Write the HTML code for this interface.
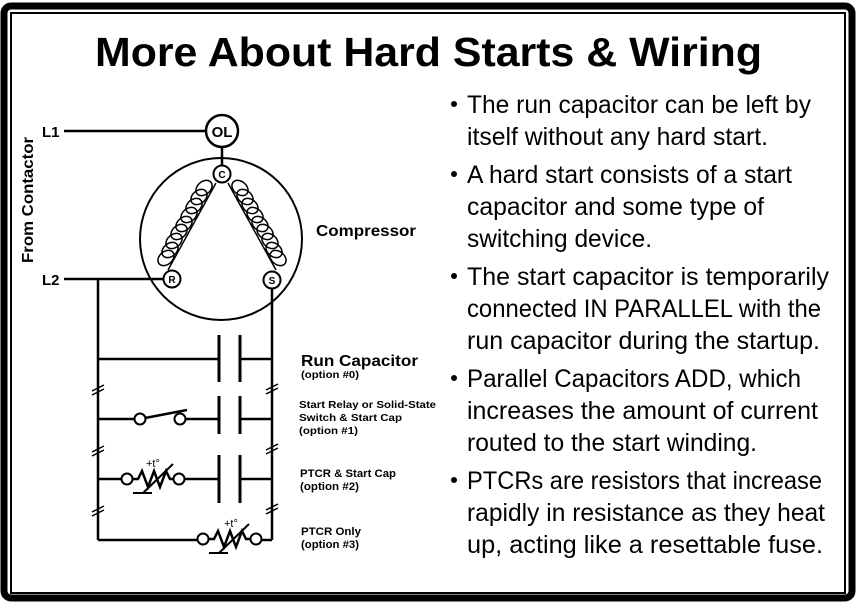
<!DOCTYPE html>
<html><head><meta charset="utf-8"><style>
html,body{margin:0;padding:0;background:#fff;}
svg{display:block}
text{font-family:"Liberation Sans",Arial,sans-serif;}
</style></head><body>
<svg width="857" height="604" viewBox="0 0 857 604" xmlns="http://www.w3.org/2000/svg">
<rect x="0" y="0" width="857" height="604" fill="#fff"/>
<rect x="4" y="6" width="848" height="592" rx="7" fill="none" stroke="#000" stroke-width="7"/>
<rect x="11" y="13" width="834" height="580" fill="none" stroke="#000" stroke-width="2"/>
<text x="95" y="66" font-size="41" font-weight="bold" textLength="667" lengthAdjust="spacingAndGlyphs">More About Hard Starts &amp; Wiring</text>

<g stroke="#000" stroke-width="2.5" fill="none">
<line x1="64" y1="131" x2="205" y2="131"/>
<circle cx="222" cy="131" r="16" fill="#fff"/>
<line x1="222" y1="147" x2="222" y2="166"/>
<circle cx="221" cy="239" r="81" stroke-width="2"/>
<line x1="64" y1="279" x2="163" y2="279"/>
<line x1="98" y1="279" x2="98" y2="540"/>
<line x1="272" y1="289" x2="272" y2="540"/>
<line x1="98" y1="540" x2="198" y2="540"/>
<line x1="261" y1="540" x2="272" y2="540"/>
<line x1="98" y1="359" x2="219" y2="359"/>
<line x1="240" y1="359" x2="272" y2="359"/>
<line x1="219" y1="335" x2="219" y2="382" stroke-width="3"/>
<line x1="240" y1="335" x2="240" y2="382" stroke-width="3"/>
<line x1="98" y1="419" x2="135" y2="419"/>
<line x1="185" y1="419" x2="219" y2="419"/>
<line x1="240" y1="419" x2="272" y2="419"/>
<line x1="219" y1="396" x2="219" y2="434" stroke-width="3"/>
<line x1="240" y1="396" x2="240" y2="434" stroke-width="3"/>
<line x1="145" y1="418" x2="187" y2="410"/>
<line x1="98" y1="479" x2="122" y2="479"/>
<line x1="184" y1="479" x2="219" y2="479"/>
<line x1="240" y1="479" x2="272" y2="479"/>
<line x1="219" y1="455" x2="219" y2="503" stroke-width="3"/>
<line x1="240" y1="455" x2="240" y2="503" stroke-width="3"/>
<polyline points="132,479 138,479 142,471 148,487 154,471 160,487 166,471 170,479 174,479"/>
<polyline points="133,493 152,493" stroke-width="2"/>
<line x1="143" y1="493" x2="173" y2="464" stroke-width="2"/>
<polyline points="208,539 214,539 218,531 224,547 230,531 236,547 242,531 246,539 251,539"/>
<polyline points="209,553 228,553" stroke-width="2"/>
<line x1="219" y1="553" x2="249" y2="524" stroke-width="2"/>
<g stroke-width="1.5">
<line x1="92" y1="391" x2="104" y2="385"/><line x1="92" y1="395" x2="104" y2="389"/>
<line x1="92" y1="452" x2="104" y2="446"/><line x1="92" y1="456" x2="104" y2="450"/>
<line x1="92" y1="512" x2="104" y2="506"/><line x1="92" y1="516" x2="104" y2="510"/>
<line x1="266" y1="390" x2="278" y2="384"/><line x1="266" y1="394" x2="278" y2="388"/>
<line x1="266" y1="450" x2="278" y2="444"/><line x1="266" y1="454" x2="278" y2="448"/>
<line x1="266" y1="510" x2="278" y2="504"/><line x1="266" y1="514" x2="278" y2="508"/>
</g>
<g stroke-width="1.5">
<line x1="216" y1="183" x2="168" y2="270"/>
<line x1="228" y1="183" x2="276" y2="270"/>
<ellipse cx="204" cy="188" rx="9" ry="6.5" transform="rotate(-40 204 188)"/>
<ellipse cx="199" cy="197" rx="9" ry="6.5" transform="rotate(-40 199 197)"/>
<ellipse cx="194" cy="206" rx="9" ry="6.5" transform="rotate(-40 194 206)"/>
<ellipse cx="189" cy="215" rx="9" ry="6.5" transform="rotate(-40 189 215)"/>
<ellipse cx="184" cy="224" rx="9" ry="6.5" transform="rotate(-40 184 224)"/>
<ellipse cx="179" cy="232" rx="9" ry="6.5" transform="rotate(-40 179 232)"/>
<ellipse cx="174" cy="241" rx="9" ry="6.5" transform="rotate(-40 174 241)"/>
<ellipse cx="170" cy="250" rx="9" ry="6.5" transform="rotate(-40 170 250)"/>
<ellipse cx="166" cy="258" rx="9" ry="6.5" transform="rotate(-40 166 258)"/>
<ellipse cx="240" cy="188" rx="9" ry="6.5" transform="rotate(40 240 188)"/>
<ellipse cx="245" cy="197" rx="9" ry="6.5" transform="rotate(40 245 197)"/>
<ellipse cx="250" cy="206" rx="9" ry="6.5" transform="rotate(40 250 206)"/>
<ellipse cx="255" cy="215" rx="9" ry="6.5" transform="rotate(40 255 215)"/>
<ellipse cx="260" cy="224" rx="9" ry="6.5" transform="rotate(40 260 224)"/>
<ellipse cx="265" cy="232" rx="9" ry="6.5" transform="rotate(40 265 232)"/>
<ellipse cx="270" cy="241" rx="9" ry="6.5" transform="rotate(40 270 241)"/>
<ellipse cx="274" cy="250" rx="9" ry="6.5" transform="rotate(40 274 250)"/>
<ellipse cx="278" cy="258" rx="9" ry="6.5" transform="rotate(40 278 258)"/>
</g>
<g fill="#fff" stroke-width="2">
<circle cx="222" cy="174" r="8.5"/>
<circle cx="172" cy="279" r="8.5"/>
<circle cx="272" cy="280" r="8.5"/>
<circle cx="140" cy="419" r="5.5"/>
<circle cx="180" cy="419" r="5.5"/>
<circle cx="127" cy="479" r="5.5"/>
<circle cx="179" cy="479" r="5.5"/>
<circle cx="203" cy="539" r="5.5"/>
<circle cx="256" cy="539" r="5.5"/>
</g>
</g>

<g font-weight="bold" fill="#000">
<text x="42" y="137" font-size="15">L1</text>
<text x="42" y="285" font-size="15">L2</text>
<text x="222" y="137" font-size="15" text-anchor="middle">OL</text>
<text x="222" y="178" font-size="10" text-anchor="middle">C</text>
<text x="172" y="283" font-size="10" text-anchor="middle">R</text>
<text x="272" y="284" font-size="10" text-anchor="middle">S</text>
<text transform="translate(33 200) rotate(-90)" font-size="16" text-anchor="middle" textLength="126" lengthAdjust="spacingAndGlyphs">From Contactor</text>
<text x="316" y="236" font-size="16" textLength="100" lengthAdjust="spacingAndGlyphs">Compressor</text>
<text x="301" y="366" font-size="16" textLength="117" lengthAdjust="spacingAndGlyphs">Run Capacitor</text>
<text x="301" y="378" font-size="10.5" textLength="58" lengthAdjust="spacingAndGlyphs">(option #0)</text>
<text x="299" y="408" font-size="10.5" textLength="137" lengthAdjust="spacingAndGlyphs">Start Relay or Solid-State</text>
<text x="299" y="421" font-size="10.5" textLength="103" lengthAdjust="spacingAndGlyphs">Switch &amp; Start Cap</text>
<text x="299" y="434" font-size="10.5" textLength="59" lengthAdjust="spacingAndGlyphs">(option #1)</text>
<text x="300" y="477" font-size="11" textLength="96" lengthAdjust="spacingAndGlyphs">PTCR &amp; Start Cap</text>
<text x="300" y="490" font-size="11" textLength="59" lengthAdjust="spacingAndGlyphs">(option #2)</text>
<text x="301" y="535" font-size="11" textLength="60" lengthAdjust="spacingAndGlyphs">PTCR Only</text>
<text x="301" y="548" font-size="11" textLength="58" lengthAdjust="spacingAndGlyphs">(option #3)</text>
</g>
<text x="146" y="467" font-size="11">+t°</text>
<text x="224" y="527" font-size="11">+t°</text>

<g font-size="25" fill="#000">
<circle cx="454" cy="104" r="3"/>
<circle cx="454" cy="174" r="3"/>
<circle cx="454" cy="276" r="3"/>
<circle cx="454" cy="378" r="3"/>
<circle cx="454" cy="480" r="3"/>
<text x="467" y="113" textLength="344" lengthAdjust="spacingAndGlyphs">The run capacitor can be left by</text>
<text x="467" y="145" textLength="301" lengthAdjust="spacingAndGlyphs">itself without any hard start.</text>
<text x="467" y="183" textLength="325" lengthAdjust="spacingAndGlyphs">A hard start consists of a start</text>
<text x="467" y="215" textLength="297" lengthAdjust="spacingAndGlyphs">capacitor and some type of</text>
<text x="467" y="247" textLength="185" lengthAdjust="spacingAndGlyphs">switching device.</text>
<text x="467" y="285" textLength="362" lengthAdjust="spacingAndGlyphs">The start capacitor is temporarily</text>
<text x="467" y="317" textLength="354" lengthAdjust="spacingAndGlyphs">connected IN PARALLEL with the</text>
<text x="467" y="349" textLength="353" lengthAdjust="spacingAndGlyphs">run capacitor during the startup.</text>
<text x="467" y="387" textLength="334" lengthAdjust="spacingAndGlyphs">Parallel Capacitors ADD, which</text>
<text x="467" y="419" textLength="351" lengthAdjust="spacingAndGlyphs">increases the amount of current</text>
<text x="467" y="451" textLength="290" lengthAdjust="spacingAndGlyphs">routed to the start winding.</text>
<text x="467" y="489" textLength="355" lengthAdjust="spacingAndGlyphs">PTCRs are resistors that increase</text>
<text x="467" y="521" textLength="358" lengthAdjust="spacingAndGlyphs">rapidly in resistance as they heat</text>
<text x="467" y="553" textLength="356" lengthAdjust="spacingAndGlyphs">up, acting like a resettable fuse.</text>
</g>
</svg>
</body></html>
